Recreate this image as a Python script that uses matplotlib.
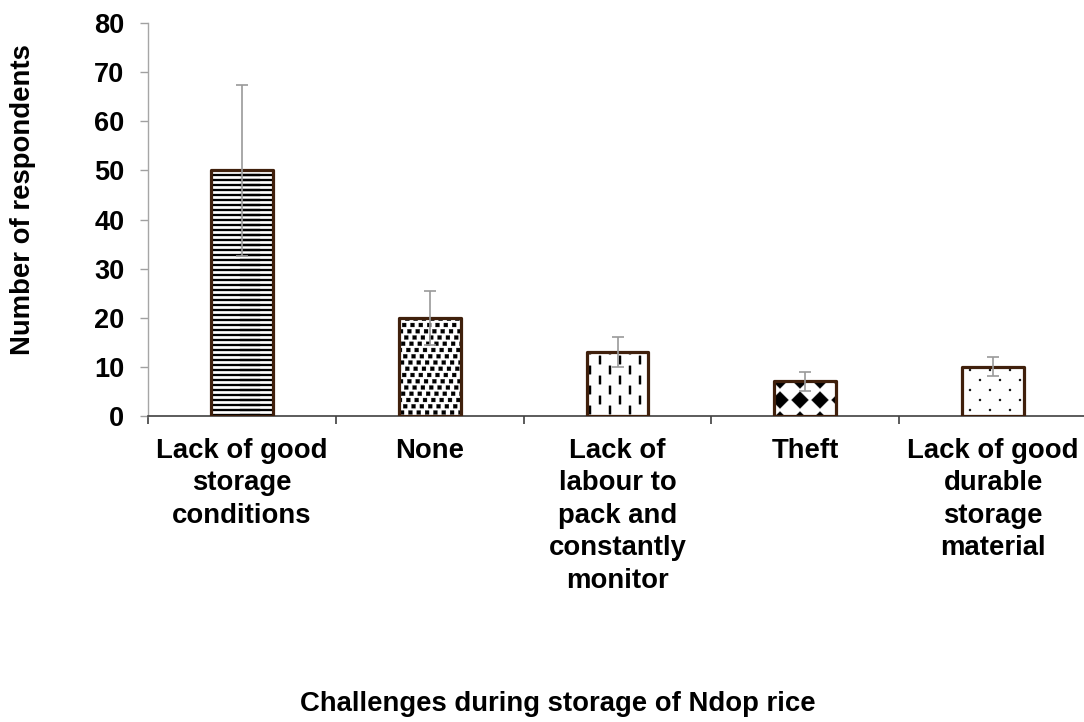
import numpy as np
import matplotlib
matplotlib.use("Agg")
import matplotlib.pyplot as plt
import matplotlib.hatch as mhatch
from matplotlib.path import Path

# ---------------- data ----------------
categories = [
    "Lack of good\nstorage\nconditions",
    "None",
    "Lack of\nlabour to\npack and\nconstantly\nmonitor",
    "Theft",
    "Lack of good\ndurable\nstorage\nmaterial",
]
respondents = [50, 20, 13, 7, 10]
errors = [17.5, 5.5, 3, 2, 2]
y_ticks = [0, 10, 20, 30, 40, 50, 60, 70, 80]
hatches = ["-", "o", "|", "x", "."]

# ---------------- custom hatch patterns ----------------
class LatticeHatch(mhatch.HatchPatternBase):
    char = None
    nx = 1
    ny = 1
    shift = 0.0   # row-to-row horizontal shift, in column spacings
    shape = None  # polygon in pixel units (tile = 100 px)

    def __init__(self, hatch, density):
        self._v = None
        self.num_vertices = 0
        if self.char is None or self.char not in hatch:
            return
        shape = np.asarray(self.shape, float) / 100.0
        n = len(shape)
        verts, codes = [], []
        for j in range(-1, self.ny + 2):
            off = ((j * self.shift) % 1.0) / self.nx
            for i in range(-2, self.nx + 2):
                cx = i / self.nx + off
                cy = j / self.ny
                v = shape + [cx, cy]
                verts.append(np.vstack([v, v[:1]]))
                codes.append([Path.MOVETO] + [Path.LINETO] * (n - 1) + [Path.CLOSEPOLY])
        self._v = np.concatenate(verts)
        self._c = np.concatenate(codes).astype(Path.code_type)
        self.num_vertices = len(self._v)

    def set_vertices_and_codes(self, vertices, codes):
        vertices[:] = self._v
        codes[:] = self._c


def rect(w, h):
    return [(-w / 2, -h / 2), (w / 2, -h / 2), (w / 2, h / 2), (-w / 2, h / 2)]


class HLines(LatticeHatch):
    char = "-"
    nx = 1
    ny = 20
    shape = [(-60, -1.0), (60, -1.0), (60, 1.0), (-60, 1.0)]


class Squares(LatticeHatch):
    char = "o"
    nx = 12
    ny = 16
    shift = 0.375
    shape = rect(3.9, 3.9)


class Dashes(LatticeHatch):
    char = "|"
    nx = 5
    ny = 10
    shift = 0.5
    shape = rect(2.1, 8.5)


class Diamonds(LatticeHatch):
    char = "x"
    nx = 5
    ny = 5
    shape = [(0, -8.5), (8.5, 0), (0, 8.5), (-8.5, 0)]


class Dots(LatticeHatch):
    char = "."
    nx = 5
    ny = 10
    shift = 0.5
    shape = [(1.1 * np.cos(t), 1.1 * np.sin(t)) for t in np.linspace(0, 2 * np.pi, 10)[:-1]]


mhatch._hatch_types = [HLines, Squares, Dashes, Diamonds, Dots]

# ---------------- style ----------------
plt.rcParams["font.family"] = ["Liberation Sans", "DejaVu Sans"]
plt.rcParams["font.weight"] = "bold"
plt.rcParams["hatch.linewidth"] = 0.2

W, H = 1084, 722
fig = plt.figure(figsize=(W / 100, H / 100), dpi=100)
ax = fig.add_axes([148 / W, (H - 415.7) / H, 939 / W, 392.4 / H])

x = np.arange(len(categories))
bar_w = 0.33
edge_col = "#40200C"

# hatched fill
bars = ax.bar(x, respondents, width=bar_w, color="white", edgecolor="black",
              linewidth=0, zorder=2)
for b, h in zip(bars, hatches):
    b.set_hatch(h)
# outline
ax.bar(x, respondents, width=bar_w, fill=False, edgecolor=edge_col,
       linewidth=2.3, joinstyle="round", zorder=3)
# error bars
ax.errorbar(x, respondents, yerr=errors, fmt="none", ecolor="#9A9A9A",
            elinewidth=1.2, capsize=4, capthick=1.2, zorder=4)

ax.set_xlim(-0.5, len(categories) - 0.5)
ax.set_ylim(0, 80)
ax.set_yticks(y_ticks)
ax.set_yticklabels([str(v) for v in y_ticks], fontsize=19.5, fontweight="bold")

# boundaries as major ticks, labels at centers via minor ticks
ax.set_xticks(np.arange(len(categories) + 1) - 0.5)
ax.set_xticklabels([])
ax.set_xticks(x, minor=True)
ax.set_xticklabels(categories, minor=True, fontsize=19.8, fontweight="bold",
                   linespacing=1.32)
ax.tick_params(axis="x", which="minor", length=0, pad=16)
ax.tick_params(axis="x", which="major", length=6, width=1.2, color="#404040",
               direction="out")
ax.tick_params(axis="y", which="major", length=6, width=1.0, color="#A0A0A0",
               direction="out", pad=11)

for s in ["top", "right"]:
    ax.spines[s].set_visible(False)
ax.spines["left"].set_color("#A6A6A6")
ax.spines["left"].set_linewidth(1.0)
ax.spines["bottom"].set_color("#404040")
ax.spines["bottom"].set_linewidth(1.2)

ax.set_ylabel("Number of respondents", fontsize=19.8, fontweight="bold")
ax.yaxis.set_label_coords((23 - 148) / 939, (415.7 - 200) / 392.4)
ax.yaxis.label.set_verticalalignment("center")
ax.set_xlabel("Challenges during storage of Ndop rice", fontsize=19.8,
              fontweight="bold")
ax.xaxis.set_label_coords((558 - 148) / 939, (415.7 - 704) / 392.4)
ax.xaxis.label.set_verticalalignment("center")

fig.savefig("out.png", dpi=100)
